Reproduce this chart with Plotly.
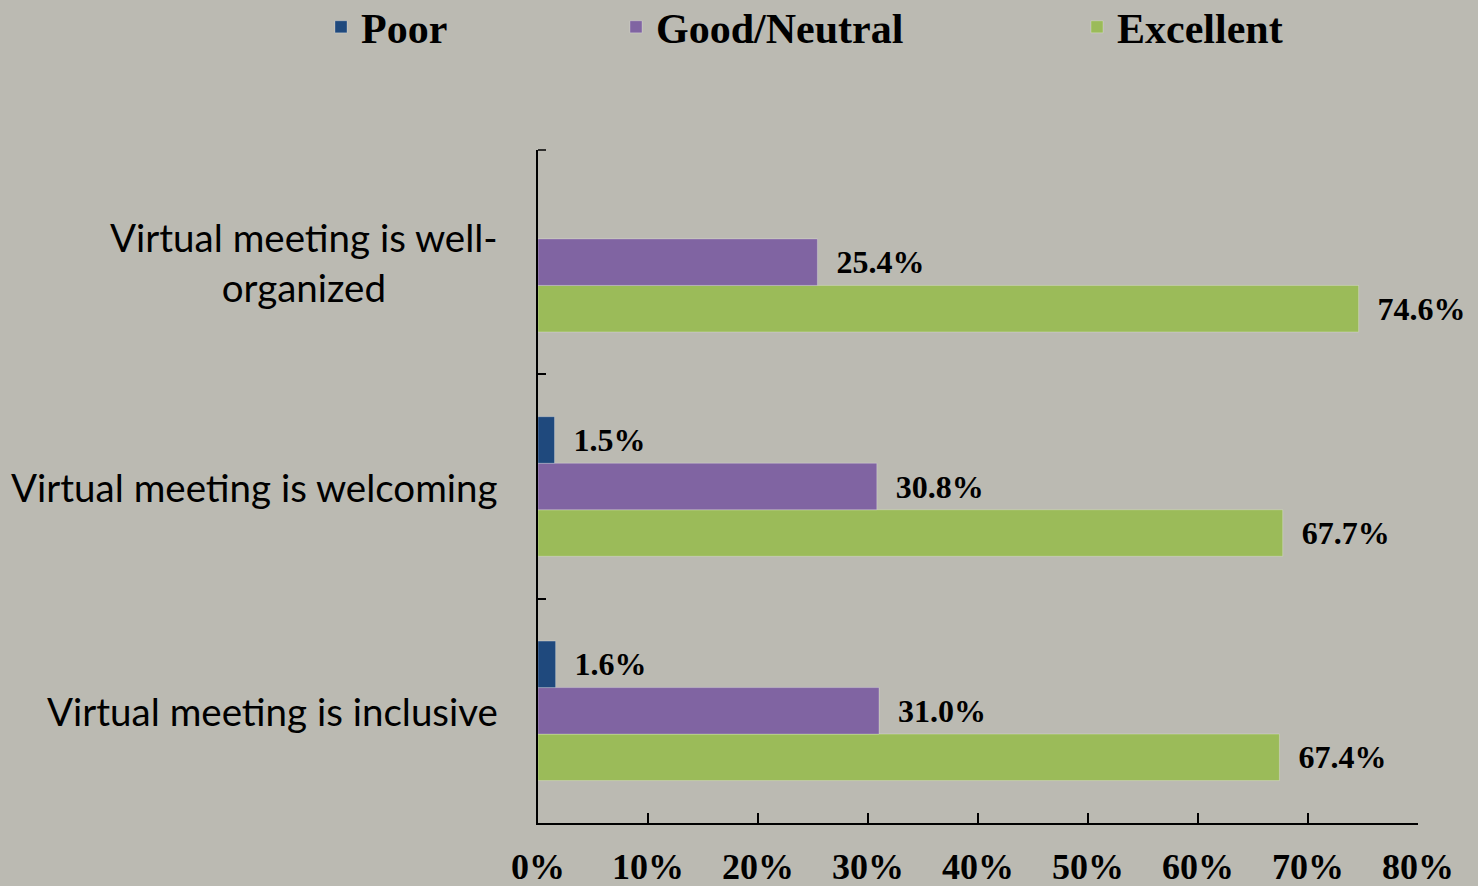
import plotly.graph_objects as go

categories = ["Virtual meeting is inclusive", "Virtual meeting is welcoming", "Virtual meeting is well-organized"]
category_labels = ["Virtual meeting is inclusive", "Virtual meeting is welcoming", "Virtual meeting is well-<br>organized"]
poor = [1.6, 1.5, None]
good_neutral = [31.0, 30.8, 25.4]
excellent = [67.4, 67.7, 74.6]
tick_vals = [0, 10, 20, 30, 40, 50, 60, 70, 80]
tick_text = ["0%", "10%", "20%", "30%", "40%", "50%", "60%", "70%", "80%"]

BG = "#BBBAB2"
SERIF = "Liberation Serif, Times New Roman, serif"
SANS = "Lato, Carlito, Calibri, sans-serif"

def labels(vals):
    return ["\u00a0\u00a0%.1f%%" % v if v is not None else "" for v in vals]

fig = go.Figure()
series = [
    ("Excellent", excellent, "#9BBB59", "legend3"),
    ("Good/Neutral", good_neutral, "#8064A2", "legend2"),
    ("Poor", poor, "#1F497D", "legend"),
]
for name, vals, color, leg in series:
    fig.add_trace(go.Bar(
        name=name, y=categories, x=vals, orientation="h",
        marker=dict(color=color, line=dict(color="rgba(255,255,255,0.25)", width=1)),
        text=labels(vals), textposition="outside", cliponaxis=False,
        textfont=dict(family=SERIF, size=32, color="black", weight="bold"),
        legend=leg, showlegend=True,
    ))

for cat, lab in zip(categories, category_labels):
    fig.add_annotation(
        text=lab, x=0, xref="paper", y=cat, yref="y", xanchor="right",
        xshift=-38, align="center", showarrow=False,
        font=dict(family=SANS, size=38.5, color="black"),
    )

# top boundary tick of the category axis
fig.add_shape(type="line", xref="paper", xsizemode="pixel", xanchor=0, x0=0, x1=8,
              yref="paper", y0=1, y1=1, line=dict(color="black", width=1.5))

legfont = dict(family=SERIF, size=42, color="black", weight="bold")
common = dict(orientation="h", xref="container", yref="container", yanchor="middle",
              xanchor="left", font=legfont, bgcolor="rgba(0,0,0,0)", itemclick=False,
              visible=True)
LY = 1 - 27 / 886
fig.update_layout(
    showlegend=True,
    legend=dict(x=321/1478, y=LY, **common),
    legend2=dict(x=616/1478, y=LY, **common),
    legend3=dict(x=1077/1478, y=LY, **common),
    barmode="group", bargap=0.378, bargroupgap=0,
    width=1478, height=886,
    margin=dict(l=538, r=60, t=150, b=63, autoexpand=False),
    paper_bgcolor=BG, plot_bgcolor=BG,
    xaxis=dict(range=[0, 80], tickvals=tick_vals, ticktext=tick_text,
               ticks="inside", ticklen=10, tickwidth=1.5, tickcolor="black",
               showline=True, linecolor="black", linewidth=2, automargin=False,
               showgrid=False, zeroline=False, ticklabelstandoff=11,
               tickfont=dict(family=SERIF, size=36, color="black", weight="bold")),
    yaxis=dict(categoryorder="array", categoryarray=categories, showticklabels=False,
               ticks="inside", ticklen=8, tickwidth=1.5, tickcolor="black",
               tickson="boundaries", showline=True, linecolor="black", linewidth=2,
               automargin=False,
               showgrid=False, zeroline=False, range=[-0.5, 2.5]),
)

fig.write_html("out.html", config={"displayModeBar": False},
               post_script="document.body.style.margin='0';document.body.style.padding='0';")
